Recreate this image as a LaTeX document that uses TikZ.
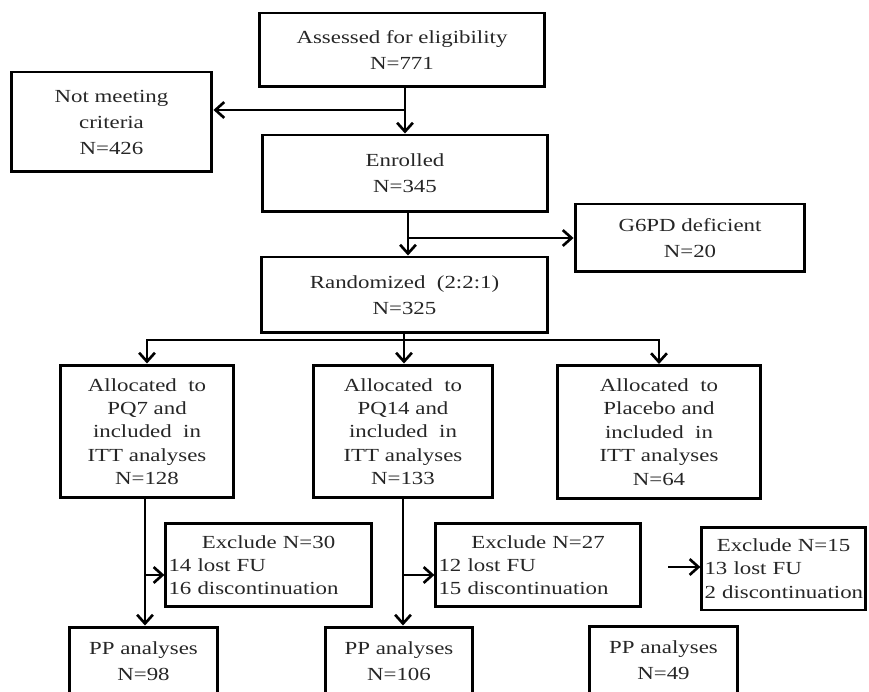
\documentclass[tikz,border=0pt]{standalone}
\usepackage{fontspec}
\setmainfont{Liberation Serif}[FakeStretch=1.24]
\usetikzlibrary{arrows.meta}

\begin{document}
\begin{tikzpicture}[x=0.02cm,y=-0.02cm,
    box/.style={draw,line width=1.7pt,inner sep=1pt,align=center,text=black!85,
      font=\fontsize{10.5}{14.8}\selectfont},
    tallbox/.style={box,minimum height=2.66cm,font=\fontsize{10.5}{13.3}\selectfont},
    exbox/.style={box,align=left,inner xsep=1.5pt,minimum height=1.68cm,
      font=\fontsize{10.5}{13.2}\selectfont},
    ppbox/.style={box,minimum width=2.98cm,minimum height=1.36cm},
    arr/.style={line width=1.5pt,-{Straight Barb[length=5pt,width=9pt]}}]
  \useasboundingbox (0,0) rectangle (869,692);
  \clip (0,0) rectangle (869,692);

  \node[box,minimum width=5.72cm,minimum height=1.48cm] (assess) at (402,50)
    {Assessed for eligibility\\N=771};
  \node[box,minimum width=4.02cm,minimum height=2cm] (notmeet) at (111.5,122)
    {Not meeting\\criteria\\N=426};
  \node[box,minimum width=5.72cm,minimum height=1.54cm] (enrol) at (405,173.5)
    {Enrolled\\N=345};
  \node[box,minimum width=4.6cm,minimum height=1.36cm] (g6pd) at (690,238)
    {G6PD deficient\\N=20};
  \node[box,minimum width=5.74cm,minimum height=1.52cm] (rand) at (404.5,295)
    {Randomized\ \ (2:2:1)\\N=325};

  \node[tallbox,minimum width=3.48cm] (a7) at (147,431.5)
    {Allocated\ \ to\\PQ7 and\\included\ \ in\\ITT analyses\\N=128};
  \node[tallbox,minimum width=3.6cm] (a14) at (403,431.5)
    {Allocated\ \ to\\PQ14 and\\included\ \ in\\ITT analyses\\N=133};
  \node[tallbox,minimum width=4.08cm] (apl) at (659,432)
    {Allocated\ \ to\\Placebo and\\included\ \ in\\ITT analyses\\N=64};

  \node[exbox,text width=4.0cm] (ex30) at (268.5,565)
    {\centering Exclude N=30\par\raggedright 14 lost FU\\16 discontinuation};
  \node[exbox,text width=3.98cm] (ex27) at (538,565)
    {\centering Exclude N=27\par\raggedright 12 lost FU\\15 discontinuation};
  \node[exbox,text width=3.16cm,minimum height=1.66cm] (ex15) at (783.5,568.5)
    {\centering Exclude N=15\par\raggedright 13 lost FU\\\mbox{2 discontinuation}};

  \node[ppbox] (pp98) at (143.5,661) {PP analyses\\N=98};
  \node[ppbox,minimum width=2.96cm] (pp106) at (399,661) {PP analyses\\N=106};
  \node[ppbox] (pp49) at (663.5,660) {PP analyses\\N=49};

  \coordinate (nb) at (405,110);
  \coordinate (gb) at (408,238);
  \coordinate (bar) at (404,340);
  \coordinate (e1) at (145,575);
  \coordinate (e2) at (403,575);
  \coordinate (e3) at (668,567);

  \draw[arr] (assess.south -| nb) -- (enrol.north -| nb);
  \draw[arr] (nb) -- (nb -| notmeet.east);
  \draw[arr] (enrol.south -| gb) -- (rand.north -| gb);
  \draw[arr] (gb) -- (gb -| g6pd.west);

  \draw[arr] (rand.south -| bar) -- (a14.north -| bar);
  \draw[arr] (bar) -| (a7.north);
  \draw[arr] (bar) -| (apl.north);

  \draw[arr] (a7.south -| e1) -- (pp98.north -| e1);
  \draw[arr] (e1) -- (e1 -| ex30.west);
  \draw[arr] (a14.south -| e2) -- (pp106.north -| e2);
  \draw[arr] (e2) -- (e2 -| ex27.west);
  \draw[arr] (e3) -- (e3 -| ex15.west);
\end{tikzpicture}
\end{document}
